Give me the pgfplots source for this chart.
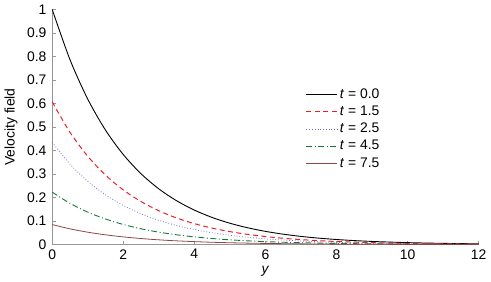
\documentclass[border=0pt]{standalone}
\usepackage{pgfplots}
\pgfplotsset{compat=1.18}
\usepackage{pgfplotstable}
\usepackage{fontspec}
\setmainfont{Liberation Sans}
\definecolor{cred}{RGB}{235,30,40}
\definecolor{cblue}{RGB}{110,110,200}
\definecolor{cgreen}{RGB}{20,120,60}
\definecolor{cbrown}{RGB}{140,70,70}
\definecolor{axgray}{RGB}{150,150,150}
\pgfplotstableread{
y c0 c1 c2 c3 c4
0.0 1.0000 0.6070 0.4350 0.2230 0.0850
0.5 0.7866 0.4775 0.3422 0.1754 0.0669
1.0 0.6188 0.3756 0.2692 0.1380 0.0526
1.5 0.4868 0.2955 0.2117 0.1086 0.0414
2.0 0.3829 0.2324 0.1666 0.0854 0.0326
2.5 0.3012 0.1828 0.1310 0.0672 0.0256
3.0 0.2369 0.1438 0.1031 0.0528 0.0201
3.5 0.1864 0.1131 0.0811 0.0416 0.0158
4.0 0.1466 0.0890 0.0638 0.0327 0.0125
4.5 0.1153 0.0700 0.0502 0.0257 0.0098
5.0 0.0907 0.0551 0.0395 0.0202 0.0077
5.5 0.0714 0.0433 0.0310 0.0159 0.0061
6.0 0.0561 0.0341 0.0244 0.0125 0.0048
6.5 0.0442 0.0268 0.0192 0.0099 0.0038
7.0 0.0347 0.0211 0.0151 0.0078 0.0030
7.5 0.0273 0.0166 0.0119 0.0061 0.0023
8.0 0.0215 0.0130 0.0094 0.0048 0.0018
8.5 0.0169 0.0103 0.0074 0.0038 0.0014
9.0 0.0133 0.0081 0.0058 0.0030 0.0011
9.5 0.0105 0.0064 0.0046 0.0023 0.0009
10.0 0.0082 0.0050 0.0036 0.0018 0.0007
10.5 0.0065 0.0039 0.0028 0.0014 0.0006
11.0 0.0051 0.0031 0.0022 0.0011 0.0004
11.5 0.0040 0.0024 0.0017 0.0009 0.0003
12.0 0.0032 0.0019 0.0014 0.0007 0.0003
}\data
\begin{document}
\fontsize{14}{16}\selectfont
\begin{tikzpicture}
\begin{axis}[
  scale only axis,
  width=428bp, height=236bp,
  xmin=0, xmax=12, ymin=0, ymax=1,
  axis lines=left,
  axis line style={axgray, -},
  xtick={0,2,...,12},
  ytick={0,0.1,...,1},
  yticklabels={0,0.1,0.2,0.3,0.4,0.5,0.6,0.7,0.8,0.9,1},
  tick style={axgray, thin},
  tick align=inside,
  major tick length=4pt,
  /pgf/number format/assume math mode=true,
  ticklabel style={font=\fontsize{14}{16}\selectfont},
  yticklabel style={xshift=-1pt},
  xlabel={\textit{y}},
  ylabel={Velocity field},
  label style={font=\fontsize{14}{16}\selectfont},
  xlabel style={yshift=2.5pt},
  ylabel style={yshift=0pt},
  clip=false,
  legend style={draw=none, fill=none, at={(axis cs:7.05,0.68)}, anchor=north west,
    font=\fontsize{14}{16}\selectfont, row sep=1.5pt},
  legend cell align=left,
  legend image code/.code={\draw[#1] (0cm,0cm) -- (1.1cm,0cm);},
]
\addplot[black, line width=0.9pt, smooth] table[x=y, y=c0] {\data};
\addlegendentry{\textit{t} = 0.0}
\addplot[cred, line width=1pt, dashed, dash pattern=on 5pt off 3.5pt, smooth] table[x=y, y=c1] {\data};
\addlegendentry{\textit{t} = 1.5}
\addplot[cblue, line width=0.8pt, dotted, smooth] table[x=y, y=c2] {\data};
\addlegendentry{\textit{t} = 2.5}
\addplot[cgreen, line width=0.9pt, dash pattern=on 6pt off 2.5pt on 1pt off 2.5pt, smooth] table[x=y, y=c3] {\data};
\addlegendentry{\textit{t} = 4.5}
\addplot[cbrown, line width=0.8pt, smooth] table[x=y, y=c4] {\data};
\addlegendentry{\textit{t} = 7.5}
\end{axis}
\end{tikzpicture}
\end{document}
